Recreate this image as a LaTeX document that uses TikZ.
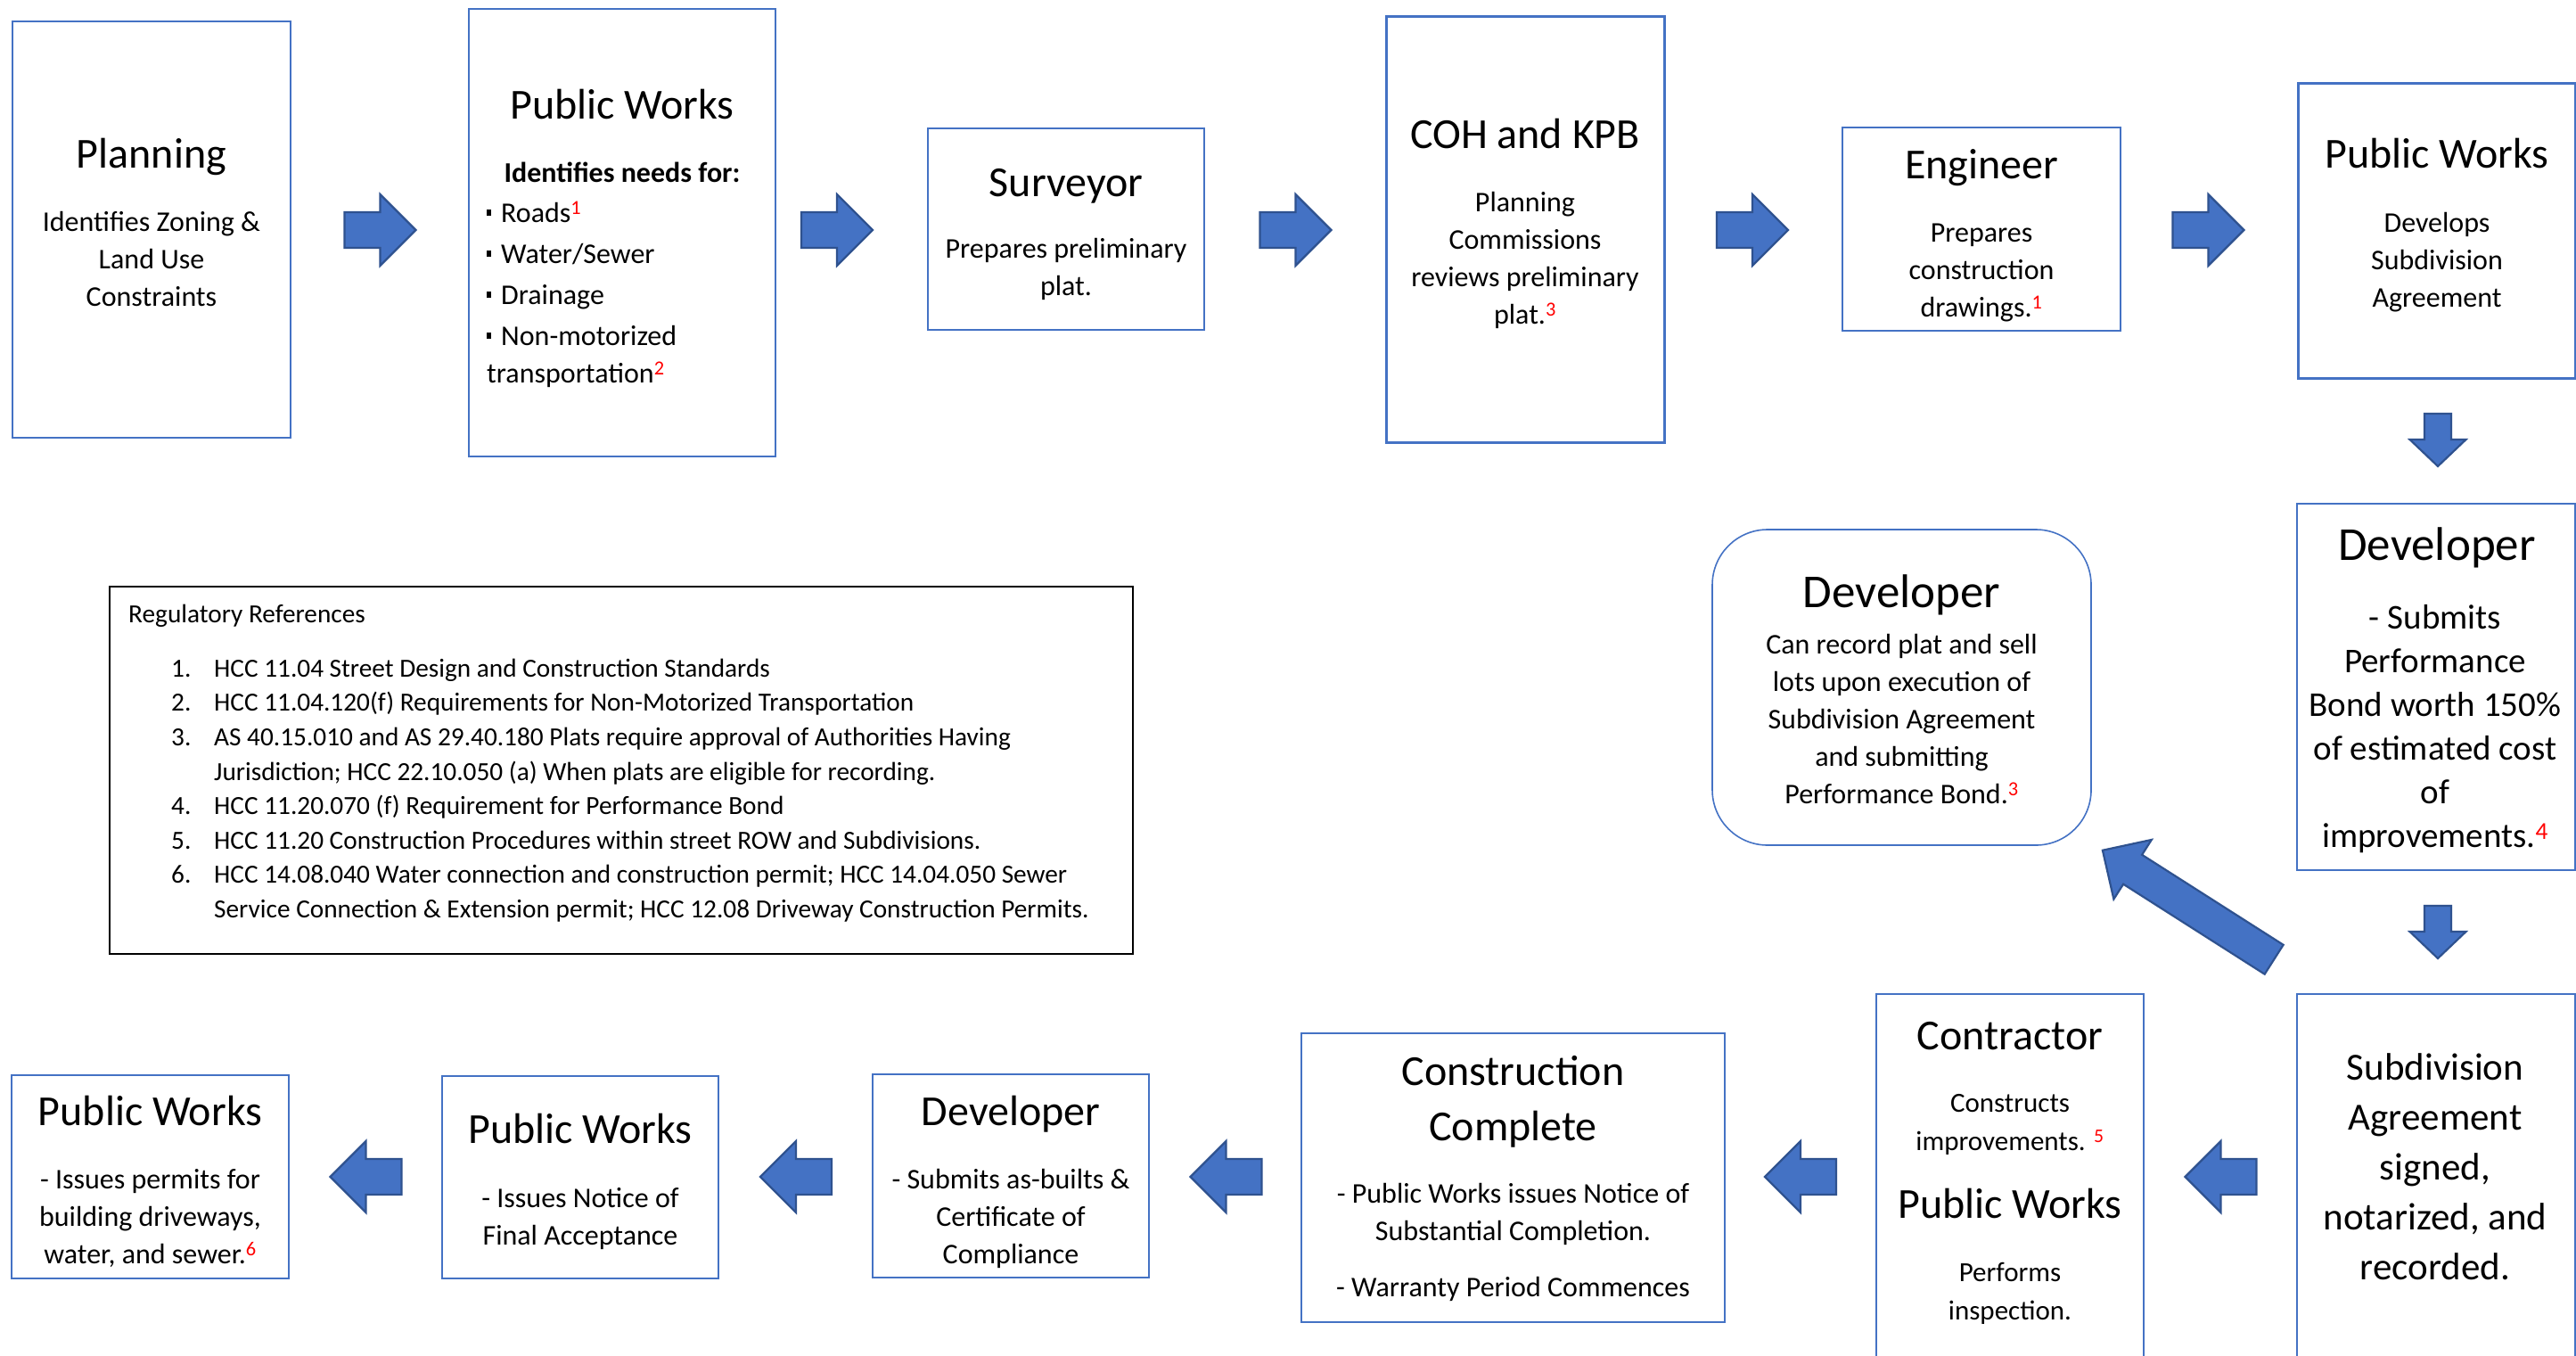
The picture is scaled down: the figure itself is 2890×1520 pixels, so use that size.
\documentclass[tikz,border=0pt]{standalone}
\usepackage{fontspec}
\setmainfont{Carlito}
\usetikzlibrary{fit}

\definecolor{boxblue}{HTML}{4472C4}
\definecolor{arrowfill}{HTML}{4472C4}
\definecolor{arrowedge}{HTML}{2F528F}

% multi-line centred text block (rows carry struts, so spacing is exact)
\newcommand{\ml}[1]{\begin{tabular}{@{}c@{}}#1\end{tabular}}
% red footnote reference
\newcommand{\rsup}[1]{\textcolor{red}{\textsuperscript{#1}}}
% small square bullet
\newcommand{\bul}{\rule[7pt]{5pt}{7pt}\hspace{11pt}}
% numbered entry in the reference list
\newcommand{\itemno}[1]{\makebox[48pt][l]{#1}}

\tikzset{
  box/.style={draw=boxblue, line width=1.6pt, inner sep=0pt},
  boxthick/.style={box, line width=3pt},
  refbox/.style={draw=black, line width=2.5pt, inner sep=0pt},
  txt/.style={inner sep=0pt, yshift=-3.5pt},
  ttl/.style={txt, font={\fontsize{48}{62}\selectfont}},
  ttlL/.style={txt, font={\fontsize{53}{66}\selectfont}},
  bd/.style={txt, font={\fontsize{32}{42}\selectfont}},
  bdb/.style={txt, font={\fontsize{32}{42}\selectfont\bfseries}},
  bdbond/.style={txt, font={\fontsize{39}{49}\selectfont}},
  bdsub/.style={txt, font={\fontsize{43}{56}\selectfont}},
  bdcon/.style={txt, font={\fontsize{31}{43}\selectfont}},
  rf/.style={inner sep=0pt, font={\fontsize{29.3}{38.6}\selectfont}},
  arrowshape/.style={fill=arrowfill, draw=arrowedge, line width=2.2pt, line join=miter},
  blkL/.store in=\blkL, blkS/.store in=\blkS,
  blkH/.store in=\blkH, blkT/.store in=\blkT,
  blkL=80, blkS=40, blkH=80, blkT=40,
  blockarrow/.pic={
    \path[arrowshape] ({-\blkL/2},{-\blkS/2}) -- ({\blkL/2-\blkT},{-\blkS/2})
      -- ({\blkL/2-\blkT},{-\blkH/2}) -- ({\blkL/2},0) -- ({\blkL/2-\blkT},{\blkH/2})
      -- ({\blkL/2-\blkT},{\blkS/2}) -- ({-\blkL/2},{\blkS/2}) -- cycle;
  }
}

\begin{document}
\begin{tikzpicture}[x=1pt, y=-1pt]
\useasboundingbox (0,0) rectangle (2890,1520);
\clip (0,0) rectangle (2890,1520);

% ---------- top row ----------
\node[box, fit={(14,24) (326,491)}] (plan) {};
\node[ttl] (plan-t) at (170,173) {\ml{Planning}};
\node[bd] (plan-b) at (170,290) {\ml{Identifies Zoning \&\\Land Use\\Constraints}};

\node[box, fit={(526,10) (870,512)}] (pw1) {};
\node[ttl] (pw1-t) at (698,118) {\ml{Public Works}};
\node[bdb] (pw1-h) at (698,193) {\ml{Identifies needs for:}};
\node[bd, anchor=north west] (pw1-l) at (546,216) {\begin{tabular}{@{}l@{}}
  \bul Roads\rsup{1}\\[4pt]
  \bul Water/Sewer\\[4pt]
  \bul Drainage\\[4pt]
  \bul Non-motorized\\
  transportation\rsup{2}
\end{tabular}};

\node[box, fit={(1041,144) (1351,370)}] (surv) {};
\node[ttl] (surv-t) at (1196,205) {\ml{Surveyor}};
\node[bd] (surv-b) at (1196,298.5) {\ml{Prepares preliminary\\plat.}};

\node[boxthick, fit={(1555,19) (1867,496)}] (coh) {};
\node[ttl] (coh-t) at (1711,151) {\ml{COH and KPB}};
\node[bd] (coh-b) at (1711,289) {\ml{Planning\\Commissions\\reviews preliminary\\plat.\rsup{3}}};

\node[box, fit={(2067,143) (2379,371)}] (eng) {};
\node[ttl] (eng-t) at (2223,185) {\ml{Engineer}};
\node[bd] (eng-b) at (2223,301.5) {\ml{Prepares\\construction\\drawings.\rsup{1}}};

\node[boxthick, fit={(2578,93) (2889,424)}] (pwdev) {};
\node[ttl] (pwdev-t) at (2734,173) {\ml{Public Works}};
\node[bd] (pwdev-b) at (2734,291) {\ml{Develops\\Subdivision\\Agreement}};

% ---------- right column ----------
\node[box, fit={(2577,565) (2889,976)}] (devbond) {};
\node[ttlL] (devbond-t) at (2734,612) {\ml{Developer}};
\node[bdbond] (devbond-b) at (2732,814.5) {\ml{- Submits\\Performance\\Bond worth 150\%\\of estimated cost\\of\\improvements.\rsup{4}}};

\node[box, rounded corners=62pt, fit={(1921,594) (2346,948)}] (devrec) {};
\node[ttlL] (devrec-t) at (2133.5,665) {\ml{Developer}};
\node[bd] (devrec-b) at (2133.5,806) {\ml{Can record plat and sell\\lots upon execution of\\Subdivision Agreement\\and submitting\\Performance Bond.\rsup{3}}};

\node[box, fit={(2577,1115) (2889,1540)}] (subag) {};
\node[bdsub] (subag-b) at (2732,1309) {\ml{Subdivision\\Agreement\\signed,\\notarized, and\\recorded.}};

% ---------- bottom row ----------
\node[box, fit={(2105,1115) (2405,1540)}] (contr) {};
\node[ttl] (contr-t) at (2255,1162) {\ml{Contractor}};
\node[bdcon] (contr-b) at (2255,1257) {\ml{Constructs\\improvements. \rsup{5}}};
\node[ttl] (contr-t2) at (2255,1351) {\ml{Public Works}};
\node[bdcon] (contr-b2) at (2255,1447) {\ml{Performs\\inspection.}};

\node[box, fit={(1460,1159) (1935,1483)}] (cc) {};
\node[ttl] (cc-t) at (1697.5,1233) {\ml{Construction\\Complete}};
\node[bd] (cc-b) at (1697.5,1359) {\ml{- Public Works issues Notice of\\Substantial Completion.}};
\node[bd] (cc-b2) at (1697.5,1443) {\ml{- Warranty Period Commences}};

\node[box, fit={(979,1205) (1289,1433)}] (devab) {};
\node[ttl] (devab-t) at (1134,1247) {\ml{Developer}};
\node[bd] (devab-b) at (1134,1363.5) {\ml{- Submits as-builts \&\\Certificate of\\Compliance}};

\node[box, fit={(496,1207) (806,1434)}] (pwfa) {};
\node[ttl] (pwfa-t) at (651,1267) {\ml{Public Works}};
\node[bd] (pwfa-b) at (651,1363.5) {\ml{- Issues Notice of\\Final Acceptance}};

\node[box, fit={(13,1206) (324,1434)}] (pwperm) {};
\node[ttl] (pwperm-t) at (168.5,1247) {\ml{Public Works}};
\node[bd] (pwperm-b) at (168.5,1364) {\ml{- Issues permits for\\building driveways,\\water, and sewer.\rsup{6}}};

% ---------- reference list ----------
\node[refbox, fit={(123,658) (1271,1070)}] (refs) {};
\node[rf, anchor=west] (refs-t) at (144,691) {\begin{tabular}{@{}l@{}}Regulatory References\end{tabular}};
\node[rf, anchor=north west] (refs-l) at (192,732) {\begin{tabular}{@{}l@{}}
  \itemno{1.}HCC 11.04 Street Design and Construction Standards\\
  \itemno{2.}HCC 11.04.120(f) Requirements for Non-Motorized Transportation\\
  \itemno{3.}AS 40.15.010 and AS 29.40.180 Plats require approval of Authorities Having\\
  \itemno{}Jurisdiction; HCC 22.10.050 (a) When plats are eligible for recording.\\
  \itemno{4.}HCC 11.20.070 (f) Requirement for Performance Bond\\
  \itemno{5.}HCC 11.20 Construction Procedures within street ROW and Subdivisions.\\
  \itemno{6.}HCC 14.08.040 Water connection and construction permit; HCC 14.04.050 Sewer\\
  \itemno{}Service Connection \& Extension permit; HCC 12.08 Driveway Construction Permits.
\end{tabular}};

% ---------- block arrows ----------
\pic (ra1) at (426.5,258) {blockarrow};
\pic (ra2) at (939,258) {blockarrow};
\pic (ra3) at (1453.5,258) {blockarrow};
\pic (ra4) at (1966,258) {blockarrow};
\pic (ra5) at (2477.5,258) {blockarrow};

\pic[rotate=-90, blkL=59, blkS=30, blkH=63, blkT=30] (da1) at (2735,493.5) {blockarrow};
\pic[rotate=-90, blkL=59, blkS=30, blkH=63, blkT=30] (da2) at (2735,1045.5) {blockarrow};

\pic[rotate=147.5, blkL=228, blkS=39, blkH=79, blkT=40] (dg) at (2455,1015) {blockarrow};

\pic[rotate=180] (la1) at (2491.5,1320) {blockarrow};
\pic[rotate=180] (la2) at (2020,1320) {blockarrow};
\pic[rotate=180] (la3) at (1375.5,1320) {blockarrow};
\pic[rotate=180] (la4) at (893,1320) {blockarrow};
\pic[rotate=180] (la5) at (410.5,1320) {blockarrow};
\end{tikzpicture}
\end{document}
